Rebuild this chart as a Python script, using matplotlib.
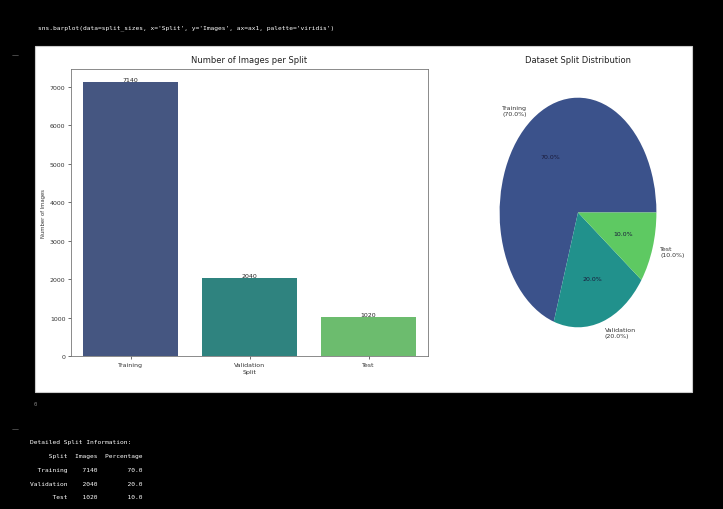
import colorsys
import numpy as np
import matplotlib
matplotlib.use("Agg")
import matplotlib.pyplot as plt
from matplotlib.patches import Rectangle

splits = ["Training", "Validation", "Test"]
images = [7140, 2040, 1020]
percentages = [70.0, 20.0, 10.0]
code_line = "sns.barplot(data=split_sizes, x='Split', y='Images', ax=ax1, palette='viridis')"

W, H = 723, 510
fig = plt.figure(figsize=(W / 100, H / 100), dpi=100, facecolor="black")


def box(x0, y0, x1, y1):
    # pixel box (top-left origin) -> figure fraction rect
    return [x0 / W, 1 - y1 / H, (x1 - x0) / W, (y1 - y0) / H]


# white notebook output panel, kept behind the axes
fig.patches.append(Rectangle((35 / W, 1 - 393 / H), (692 - 35) / W, (393 - 47) / H,
                             transform=fig.transFigure, facecolor="white",
                             edgecolor="#cccccc", linewidth=0.8, zorder=-10))

cmap = plt.get_cmap("viridis")
pie_colors = [cmap(v) for v in (0.25, 0.5, 0.75)]


def desat(c, prop=0.75):
    h, l, s = colorsys.rgb_to_hls(*c[:3])
    return colorsys.hls_to_rgb(h, l, s * prop)


bar_colors = [desat(c) for c in pie_colors]

# bar chart
ax1 = fig.add_axes(box(71, 70, 428, 357))
x = np.arange(len(splits))
ax1.bar(x, images, width=0.8, color=bar_colors)
ax1.set_xlim(-0.5, 2.5)
ax1.set_ylim(0, max(images) * 1.046)
ax1.set_xticks(x)
ax1.set_xticklabels(splits)
ax1.tick_params(labelsize=4.5, length=2, width=0.5, colors="#333333", pad=2)
for s in ax1.spines.values():
    s.set_color("#777777")
    s.set_linewidth(0.6)
ax1.set_title("Number of Images per Split", fontsize=6, color="#222222", pad=5)
ax1.set_xlabel("Split", fontsize=4.5, color="#333333", labelpad=2)
ax1.set_ylabel("Number of Images", fontsize=3.8, color="#333333", labelpad=3)
for xi, v in zip(x, images):
    ax1.text(xi, v, str(v), ha="center", va="bottom", fontsize=4.5, color="#222222")

# pie chart, stretched like the reference
ax2 = fig.add_axes(box(480, 70, 676, 357))
labels = [f"{s}\n({p:.1f}%)" for s, p in zip(splits, percentages)]
wedges, texts, autotexts = ax2.pie(images, labels=labels, colors=pie_colors,
                                   autopct="%1.1f%%", startangle=0)
ax2.set_aspect("auto")
ax2.set_xlim(-1.25, 1.25)
ax2.set_ylim(-1.25, 1.25)
for t in texts:
    t.set_fontsize(4.5)
    t.set_color("#333333")
for t in autotexts:
    t.set_fontsize(4.5)
    t.set_color("#1a1a3a")
ax2.set_title("Dataset Split Distribution", fontsize=6, color="#222222", pad=5)

# notebook text around the figure
mono = "DejaVu Sans Mono"
fig.text(38 / W, 1 - 28 / H, code_line, family=mono, fontsize=4.5, color="white", va="center")
fig.text(12 / W, 1 - 55 / H, "—", fontsize=5, color="#888888", va="center")
fig.text(35 / W, 1 - 405 / H, "0", family=mono, fontsize=4, color="#888888", va="center", ha="center")
fig.text(12 / W, 1 - 429 / H, "—", fontsize=5, color="#888888", va="center")

rows = ["Detailed Split Information:",
        f"{'Split':>10}  {'Images':>6}  {'Percentage':>10}"]
for s, n, p in zip(splits, images, percentages):
    rows.append(f"{s:>10}  {n:>6}  {p:>10.1f}")
for i, r in enumerate(rows):
    fig.text(30 / W, 1 - (443 + 13.7 * i) / H, r, family=mono, fontsize=4.5,
             color="white", va="center")

fig.savefig("out.png", dpi=100, facecolor="black")
